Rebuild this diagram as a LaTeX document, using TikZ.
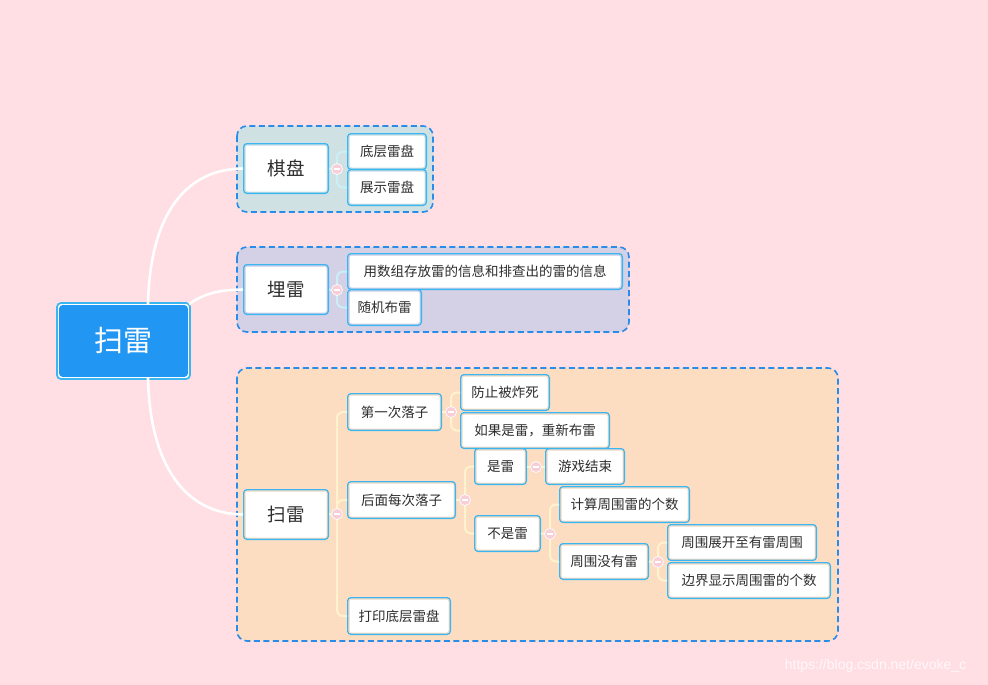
\documentclass[tikz,border=0pt]{standalone}
\usepackage{fontspec}
\newfontfamily\cjk{Noto Sans CJK SC}
\newfontfamily\wmfont{Liberation Sans}
\definecolor{bg}{RGB}{255,222,228}
\definecolor{gone}{RGB}{207,225,226}
\definecolor{gtwo}{RGB}{212,209,231}
\definecolor{gthree}{RGB}{253,221,194}
\definecolor{dashblue}{RGB}{40,140,232}
\definecolor{nodeblue}{RGB}{60,182,240}
\definecolor{rootblue}{RGB}{33,150,243}
\definecolor{txt}{RGB}{45,45,45}
\definecolor{cyanline}{RGB}{200,240,246}
\definecolor{creamline}{RGB}{255,243,205}
\definecolor{dotpink}{RGB}{248,206,216}
\tikzset{
  grp/.style={draw=dashblue, line width=1.6pt, dash pattern=on 6pt off 3.5pt, rounded corners=10pt},
  lvltwo/.style={draw=nodeblue, line width=2pt, fill=white, rounded corners=3pt, text=txt,
    font=\cjk\fontsize{18.5}{20}\selectfont, minimum width=84pt, minimum height=49pt, inner sep=0pt},
  leaf/.style={draw=nodeblue, line width=2pt, fill=white, rounded corners=3pt, text=txt,
    font=\cjk\fontsize{13.5}{15}\selectfont, minimum height=35pt, inner sep=0pt},
  mainline/.style={draw=white, line width=2.6pt},
  brone/.style={draw=cyanline, line width=2pt, rounded corners=6pt},
  brthree/.style={draw=creamline, line width=2pt, rounded corners=6pt},
  gapline/.style={line width=1.2pt, rounded corners=2.5pt},
  knob/.style={circle, fill=dotpink, draw=white, line width=0.7pt, minimum size=11pt, inner sep=0pt,
    path picture={\draw[white, line width=1.2pt] ([xshift=-3pt]path picture bounding box.center) -- ([xshift=3pt]path picture bounding box.center);}},
}
\begin{document}
\begin{tikzpicture}[x=1pt,y=-1pt]
\useasboundingbox (0,0) rectangle (988,685);
\fill[bg] (0,0) rectangle (988,685);

% groups
\draw[grp, fill=gone] (237,126) rectangle (433,212);
\draw[grp, fill=gtwo] (237,247) rectangle (629,332);
\draw[grp, fill=gthree] (237,368) rectangle (838,641);

% root
\node[draw=nodeblue, line width=1.8pt, fill=white, rounded corners=4pt, minimum width=133pt, minimum height=76pt, inner sep=0pt] (root) at (123.5,341) {};
\fill[rootblue, rounded corners=3.5pt] ([shift={(3,3)}]root.north west) rectangle ([shift={(-3,-3)}]root.south east);
\node[text=white, font=\cjk\fontsize{29}{32}\selectfont] (roottext) at (root.center) {扫雷};

% level two
\node[lvltwo] (qipan) at (286,168.5) {棋盘};
\node[lvltwo] (maile) at (286,289.5) {埋雷};
\node[lvltwo] (saolei) at (286,514.5) {扫雷};

% main connectors
\coordinate (ra) at (148,304);
\coordinate (rb) at (189,304);
\coordinate (rc) at (148,378);
\draw[mainline] (ra) .. controls (150,215) and (185,169) .. (qipan.west);
\draw[mainline] (rb) .. controls (208,291) and (225,290) .. (maile.west);
\draw[mainline] (rc) .. controls (150,465) and (185,514) .. (saolei.west);

% leaves
\node[leaf, minimum width=78pt] (dc) at (387,151.5) {底层雷盘};
\node[leaf, minimum width=78pt] (zs) at (387,187.5) {展示雷盘};
\node[leaf, minimum width=274pt] (yong) at (485,271.5) {用数组存放雷的信息和排查出的雷的信息};
\node[leaf, minimum width=73pt] (sj) at (384.5,307.5) {随机布雷};
\node[leaf, minimum width=93pt, minimum height=36pt] (dyc) at (394.5,412) {第一次落子};
\node[leaf, minimum width=107pt, minimum height=36pt] (hm) at (401.5,500) {后面每次落子};
\node[leaf, minimum width=102pt, minimum height=36pt] (dy) at (399,616) {打印底层雷盘};
\node[leaf, minimum width=88pt] (fz) at (505,392.5) {防止被炸死};
\node[leaf, minimum width=148pt] (rg) at (535,430.5) {如果是雷，重新布雷};
\node[leaf, minimum width=51pt] (sl) at (500.5,466.5) {是雷};
\node[leaf, minimum width=78pt] (yx) at (585,466.5) {游戏结束};
\node[leaf, minimum width=65pt] (bsl) at (507.5,533.5) {不是雷};
\node[leaf, minimum width=129pt] (js) at (624.5,504.5) {计算周围雷的个数};
\node[leaf, minimum width=88pt] (zw) at (604,561.5) {周围没有雷};
\node[leaf, minimum width=148pt] (zk) at (742,542.5) {周围展开至有雷周围};
\node[leaf, minimum width=162pt] (bj) at (749,580.5) {边界显示周围雷的个数};

% inner tinted margins of the boxes
\foreach \n in {qipan,dc,zs}
  \draw[gapline, draw=gone] ([shift={(1.9,1.9)}]\n.north west) rectangle ([shift={(-1.9,-1.9)}]\n.south east);
\foreach \n in {maile,yong,sj}
  \draw[gapline, draw=gtwo] ([shift={(1.9,1.9)}]\n.north west) rectangle ([shift={(-1.9,-1.9)}]\n.south east);
\foreach \n in {saolei,dyc,hm,dy,fz,rg,sl,yx,bsl,js,zw,zk,bj}
  \draw[gapline, draw=gthree] ([shift={(1.9,1.9)}]\n.north west) rectangle ([shift={(-1.9,-1.9)}]\n.south east);

% knob positions
\coordinate (k1) at (337,169);
\coordinate (k2) at (337,290);
\coordinate (k3) at (337,514);
\coordinate (k4) at (451,412);
\coordinate (k5) at (465,500);
\coordinate (k6) at (536,467);
\coordinate (k7) at (550,534);
\coordinate (k8) at (658,562);

% branches
\draw[brone] (qipan.east) -- (k1);
\draw[brone] (k1) |- (dc.west);
\draw[brone] (k1) |- (zs.west);
\draw[brone] (maile.east) -- (k2);
\draw[brone] (k2) |- (yong.west);
\draw[brone] (k2) |- (sj.west);
\draw[brthree] (saolei.east) -- (k3);
\draw[brthree] (k3) |- (dyc.west);
\draw[brthree] (k3) |- (hm.west);
\draw[brthree] (k3) |- (dy.west);
\draw[brthree] (dyc.east) -- (k4);
\draw[brthree] (k4) |- (fz.west);
\draw[brthree] (k4) |- (rg.west);
\draw[brthree] (hm.east) -- (k5);
\draw[brthree] (k5) |- (sl.west);
\draw[brthree] (k5) |- (bsl.west);
\draw[brthree] (sl.east) -- (yx.west);
\draw[brthree] (bsl.east) -- (k7);
\draw[brthree] (k7) |- (js.west);
\draw[brthree] (k7) |- (zw.west);
\draw[brthree] (zw.east) -- (k8);
\draw[brthree] (k8) |- (zk.west);
\draw[brthree] (k8) |- (bj.west);

% knobs
\foreach \k in {k1,k2,k3,k4,k5,k6,k7,k8}
  \node[knob] (knob\k) at (\k) {};

% watermark
\node[text=white, opacity=0.8, font=\wmfont\fontsize{14}{16}\selectfont, inner sep=0pt] (wm) at (875.5,666) {https://blog.csdn.net/evoke\_c};
\end{tikzpicture}
\end{document}
